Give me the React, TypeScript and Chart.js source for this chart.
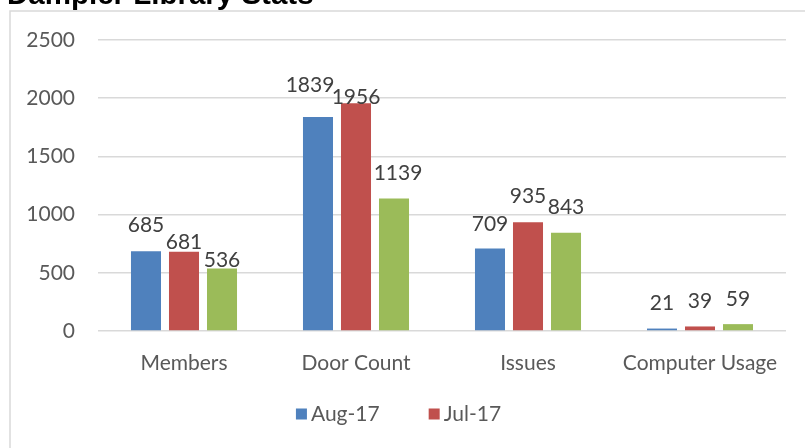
import React, { useEffect, useRef } from "react";
import { Chart, registerables } from "chart.js";

Chart.register(...registerables);

const TITLE = "Dampier Library Stats";
const CATEGORIES = ["Members", "Door Count", "Issues", "Computer Usage"];
const SERIES_NAMES = ["Aug-17", "Jul-17", ""];
const AUG_17 = [685, 1839, 709, 21];
const JUL_17 = [681, 1956, 935, 39];
const THIRD = [536, 1139, 843, 59];
const Y_TICKS = [0, 500, 1000, 1500, 2000, 2500];
const COLORS = ["#4f81bd", "#c0504d", "#9bbb59"];

// label placement tweaks (pixels above bar top, horizontal nudge)
const LABEL_LIFT = [
  [26, 32, 24, 25],
  [9, 6, 26, 25],
  [8, 25, 26, 25],
];
const LABEL_SHIFT_X = [
  [0, -8, 0, 0],
  [0, 0, 0, 0],
  [0, 4, 0, 0],
];

const FONT = "Lato, 'Open Sans', sans-serif";
const FONT_SIZE = 21;

const framePlugin = {
  id: "frame",
  beforeDraw(chart: any) {
    const ctx = chart.ctx;
    ctx.save();
    ctx.strokeStyle = "#d9d9d9";
    ctx.lineWidth = 1.5;
    ctx.beginPath();
    ctx.moveTo(10, 448);
    ctx.lineTo(10, 11);
    ctx.lineTo(805, 11);
    ctx.stroke();
    ctx.fillStyle = "#000000";
    ctx.font = "bold 29.5px 'Liberation Sans', Arial, sans-serif";
    ctx.textAlign = "left";
    ctx.textBaseline = "alphabetic";
    ctx.fillText(TITLE, 7, 4);
    ctx.restore();
  },
};

const labelsPlugin = {
  id: "valueLabels",
  afterDatasetsDraw(chart: any) {
    const ctx = chart.ctx;
    ctx.save();
    ctx.fillStyle = "#404040";
    ctx.font = `${FONT_SIZE}px ${FONT}`;
    ctx.textAlign = "center";
    ctx.textBaseline = "middle";
    chart.data.datasets.forEach((ds: any, di: number) => {
      const meta = chart.getDatasetMeta(di);
      meta.data.forEach((bar: any, i: number) => {
        const v = ds.data[i];
        ctx.fillText(String(v), bar.x + LABEL_SHIFT_X[di][i], bar.y - LABEL_LIFT[di][i]);
      });
    });
    ctx.restore();
  },
};

const legendPlugin = {
  id: "customLegend",
  afterDraw(chart: any) {
    const ctx = chart.ctx;
    ctx.save();
    ctx.font = `${FONT_SIZE}px ${FONT}`;
    ctx.textBaseline = "middle";
    ctx.textAlign = "left";
    const items = chart.data.datasets
      .map((ds: any, i: number) => ({ text: ds.label, color: ds.backgroundColor, i }))
      .filter((it: any) => it.text !== "");
    const box = 11;
    const gap = 4;
    const spacing = 49;
    const widths = items.map((it: any) => box + gap + ctx.measureText(it.text).width);
    const total = widths.reduce((a: number, b: number) => a + b, 0) + spacing * (items.length - 1);
    let x = chart.width / 2 - 4 - total / 2;
    const cy = 414;
    items.forEach((it: any, k: number) => {
      ctx.fillStyle = it.color;
      ctx.fillRect(x, cy - box / 2, box, box);
      ctx.fillStyle = "#595959";
      ctx.fillText(it.text, x + box + gap, cy);
      x += widths[k] + spacing;
    });
    ctx.restore();
  },
};

export default function App() {
  const ref = useRef<HTMLCanvasElement | null>(null);
  useEffect(() => {
    if (!ref.current) return;
    const series = [AUG_17, JUL_17, THIRD];
    const chart = new Chart(ref.current, {
      type: "bar",
      data: {
        labels: CATEGORIES,
        datasets: series.map((d, i) => ({
          label: SERIES_NAMES[i],
          data: d,
          backgroundColor: COLORS[i],
          borderWidth: 0,
          categoryPercentage: 0.663,
          barPercentage: 0.79,
        })),
      },
      options: {
        animation: false,
        responsive: false,
        maintainAspectRatio: false,
        layout: { padding: { left: 0, right: 19, top: 40, bottom: 54 } },
        plugins: {
          title: { display: false },
          tooltip: { enabled: false },
          legend: { display: false },
        },
        scales: {
          x: {
            grid: { display: false },
            border: { display: false },
            ticks: {
              color: "#595959",
              font: { family: FONT, size: FONT_SIZE },
              padding: 12,
              maxRotation: 0,
              autoSkip: false,
            },
            afterFit: (scale: any) => {
              scale.height = 63;
            },
          },
          y: {
            min: 0,
            max: 2500,
            afterBuildTicks: (scale: any) => {
              scale.ticks = Y_TICKS.map((v) => ({ value: v }));
            },
            grid: { color: "#d9d9d9", lineWidth: 1.5, drawTicks: false },
            border: { display: false },
            ticks: {
              color: "#595959",
              font: { family: FONT, size: FONT_SIZE },
              padding: 23,
              callback: (v: any) => String(v),
            },
            afterFit: (scale: any) => {
              scale.width = 98;
            },
          },
        },
      },
      plugins: [framePlugin, labelsPlugin, legendPlugin],
    });
    return () => chart.destroy();
  }, []);
  return (
    <div style={{ position: "absolute", left: 0, top: 0, width: 805, height: 448, background: "#ffffff" }}>
      <canvas ref={ref} width={805} height={448} style={{ display: "block" }} />
    </div>
  );
}
